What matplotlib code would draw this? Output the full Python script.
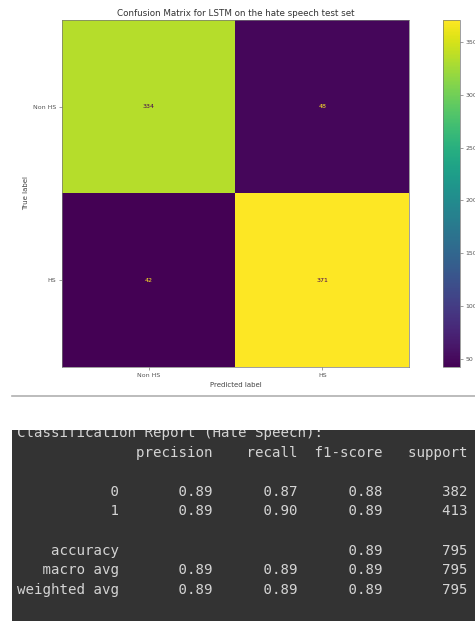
import numpy as np
import matplotlib
matplotlib.use('Agg')
import matplotlib.pyplot as plt

# confusion matrix (rows = true, cols = predicted)
class_names = ['Non HS', 'HS']
cm = np.array([[334, 48],
               [42, 371]])

# classification report values
report_rows = ['0', '1']
precision = [0.89, 0.89]
recall = [0.87, 0.90]
f1 = [0.88, 0.89]
support = [382, 413]
accuracy = 0.89
macro = [0.89, 0.89, 0.89]
weighted = [0.89, 0.89, 0.89]
total = 795

W, H = 475, 621
fig = plt.figure(figsize=(W / 100, H / 100), dpi=100)
fig.patch.set_facecolor('white')

def px(x0, y0, x1, y1):
    # pixel box (top-left origin) -> figure fraction
    return [x0 / W, 1 - y1 / H, (x1 - x0) / W, (y1 - y0) / H]

ax = fig.add_axes(px(62, 20, 409, 367))
im = ax.imshow(cm, cmap='viridis', aspect='auto', interpolation='nearest')
cmap_min, cmap_max = im.cmap(0.0), im.cmap(1.0)
thresh = (cm.max() + cm.min()) / 2.0
for i in range(cm.shape[0]):
    for j in range(cm.shape[1]):
        color = cmap_max if cm[i, j] < thresh else cmap_min
        ax.text(j, i, str(cm[i, j]), ha='center', va='center',
                color=color, fontsize=4.5)
ax.set_xticks(range(len(class_names)))
ax.set_yticks(range(len(class_names)))
ax.set_xticklabels(class_names, fontsize=4.5, color='#444444')
ax.set_yticklabels(class_names, fontsize=4.5, color='#444444')
ax.tick_params(length=2, width=0.4, pad=2, colors='#555555')
ax.set_xlabel('Predicted label', fontsize=5, color='#444444', labelpad=3)
ax.set_ylabel('True label', fontsize=5, color='#444444', labelpad=3)
ax.set_title('Confusion Matrix for LSTM on the hate speech test set',
             fontsize=6.3, color='#333333', pad=3)
for s in ax.spines.values():
    s.set_linewidth(0.5)
    s.set_color('#777777')

cax = fig.add_axes(px(443, 20, 460, 367))
cb = fig.colorbar(im, cax=cax)
cb.set_ticks([50, 100, 150, 200, 250, 300, 350])
cb.ax.tick_params(labelsize=4.5, length=2, width=0.4, pad=2,
                  colors='#555555')
cb.outline.set_linewidth(0.5)
cb.outline.set_edgecolor('#777777')

# separator line between the two screenshots
fig.add_artist(plt.Line2D([12 / W, 1], [1 - 396 / H, 1 - 396 / H],
                          color='#b0b0b0', lw=1.2))

# dark terminal panel with the report
tx = fig.add_axes(px(12, 430, 475, 621))
tx.set_facecolor('#333333')
tx.set_xlim(12, 475)
tx.set_ylim(621, 430)
tx.set_xticks([])
tx.set_yticks([])
for s in tx.spines.values():
    s.set_visible(False)

width = 12
lines = ['Classification Report (Hate Speech):']
lines.append(' ' * width + ' ' + ''.join(' {:>9}'.format(h) for h in
             ['precision', 'recall', 'f1-score', 'support']))
lines.append('')
for k, name in enumerate(report_rows):
    lines.append('{:>{w}s} '.format(name, w=width) +
                 ''.join(' {:>9.2f}'.format(v) for v in (precision[k], recall[k], f1[k])) +
                 ' {:>9}'.format(support[k]))
lines.append('')
lines.append('{:>{w}s} '.format('accuracy', w=width) + ' {:>9}'.format('') * 2 +
             ' {:>9.2f}'.format(accuracy) + ' {:>9}'.format(total))
for name, vals in (('macro avg', macro), ('weighted avg', weighted)):
    lines.append('{:>{w}s} '.format(name, w=width) +
                 ''.join(' {:>9.2f}'.format(v) for v in vals) +
                 ' {:>9}'.format(total))

y0, step = 433, 19.6
for k, line in enumerate(lines):
    t = tx.text(17, y0 + k * step, line, family='DejaVu Sans Mono',
                fontsize=10.2, color='#d4d4d4', va='center', ha='left')
    t.set_clip_on(True)

fig.savefig('out.png', dpi=100, facecolor='white')
